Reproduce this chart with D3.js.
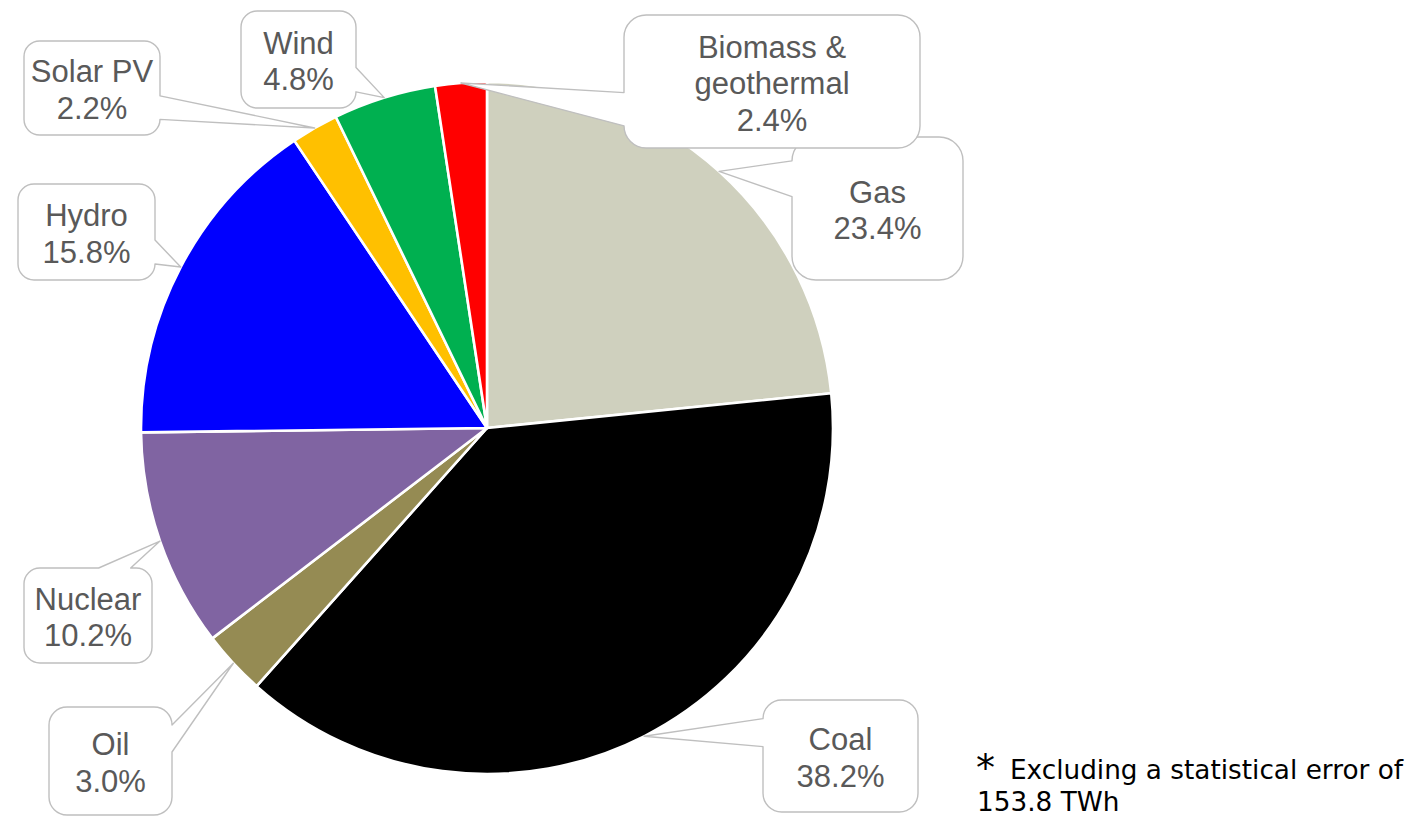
<!DOCTYPE html>
<html>
<head>
<meta charset="utf-8">
<script src="https://cdn.jsdelivr.net/npm/d3@7"></script>
<style>
  html, body { margin: 0; padding: 0; background: #ffffff; }
  svg { display: block; }
</style>
</head>
<body>
<svg id="chart" width="1407" height="818"></svg>
<script>
// Electricity generation mix (share of total, %)
const sources = ["Gas", "Coal", "Oil", "Nuclear", "Hydro", "Solar PV", "Wind", "Biomass &\ngeothermal"];
const shares  = [23.4, 38.2, 3.0, 10.2, 15.8, 2.2, 4.8, 2.4];
const colors  = ["#CFD0BE", "#000000", "#958B53", "#8064A2", "#0000FF", "#FFC000", "#00B050", "#FF0000"];
const footnoteLines = ["Excluding a statistical error of", "153.8 TWh"];

// Callout box placement (left, top, width, height), one per slice
const calloutBoxes = [
  [792, 137, 171, 143],
  [763, 700, 155, 112],
  [49, 707, 123, 108],
  [24, 568, 128, 95],
  [18, 184, 137, 96],
  [24, 41, 136, 94],
  [241, 11, 115, 97],
  [624, 15, 296, 133]
];

const svg = d3.select("#chart");
const cx = 487, cy = 428, radius = 346;

const data = sources.map((s, i) => ({ name: s, value: shares[i], color: colors[i], box: calloutBoxes[i] }));

const pie = d3.pie().value(d => d.value).sort(null);
const arcs = pie(data);
const arc = d3.arc().innerRadius(0).outerRadius(radius);
const rim = d3.arc().innerRadius(radius).outerRadius(radius);

const g = svg.append("g").attr("transform", `translate(${cx},${cy})`);
g.selectAll("path.slice")
  .data(arcs)
  .join("path")
  .attr("class", "slice")
  .attr("d", arc)
  .attr("fill", d => d.data.color)
  .attr("stroke", "#ffffff")
  .attr("stroke-width", 2.6)
  .attr("stroke-linejoin", "round");

// Rounded callout with a wedge pointing at the slice rim
function calloutPath(x, y, w, h, tip) {
  const r = Math.min(w, h) / 6;
  const mx = x + w / 2, my = y + h / 2;
  const dx = tip[0] - mx, dy = tip[1] - my;
  const vertical = Math.abs(dy) > Math.abs(dx * h / w);
  let edge, b0, b1;
  if (vertical) {
    edge = dy < 0 ? "top" : "bottom";
    [b0, b1] = dx < 0 ? [x + w * 2 / 12, x + w * 5 / 12] : [x + w * 7 / 12, x + w * 10 / 12];
  } else {
    edge = dx < 0 ? "left" : "right";
    [b0, b1] = dy < 0 ? [y + h * 2 / 12, y + h * 5 / 12] : [y + h * 7 / 12, y + h * 10 / 12];
  }
  const t = `${tip[0]},${tip[1]}`;
  let p = `M${x + r},${y}`;
  if (edge === "top") p += `L${b0},${y}L${t}L${b1},${y}`;
  p += `L${x + w - r},${y}A${r},${r} 0 0 1 ${x + w},${y + r}`;
  if (edge === "right") p += `L${x + w},${b0}L${t}L${x + w},${b1}`;
  p += `L${x + w},${y + h - r}A${r},${r} 0 0 1 ${x + w - r},${y + h}`;
  if (edge === "bottom") p += `L${b1},${y + h}L${t}L${b0},${y + h}`;
  p += `L${x + r},${y + h}A${r},${r} 0 0 1 ${x},${y + h - r}`;
  if (edge === "left") p += `L${x},${b1}L${t}L${x},${b0}`;
  p += `L${x},${y + r}A${r},${r} 0 0 1 ${x + r},${y}Z`;
  return p;
}

const fmt = d3.format(".1f");
const callouts = svg.append("g").attr("class", "callouts");

arcs.forEach(a => {
  const [bx, by, bw, bh] = a.data.box;
  const c = rim.centroid(a);
  const tip = [cx + c[0], cy + c[1]];
  callouts.append("path")
    .attr("d", calloutPath(bx, by, bw, bh, tip))
    .attr("fill", "#ffffff")
    .attr("stroke", "#BFBFBF")
    .attr("stroke-width", 1.4)
    .attr("stroke-linejoin", "round");

  const lines = a.data.name.split("\n").concat([fmt(a.data.value) + "%"]);
  const lh = 36.5;
  const midY = by + bh / 2 + 2;
  const text = callouts.append("text")
    .attr("text-anchor", "middle")
    .attr("font-family", "Liberation Sans, Arial, sans-serif")
    .attr("font-size", 31)
    .attr("fill", "#595959");
  lines.forEach((ln, i) => {
    text.append("tspan")
      .attr("x", bx + bw / 2)
      .attr("y", midY + (i - (lines.length - 1) / 2) * lh)
      .attr("dominant-baseline", "central")
      .text(ln);
  });
});

// Footnote
const foot = svg.append("g")
  .attr("font-family", "DejaVu Sans, Verdana, sans-serif")
  .attr("font-size", 26.3)
  .attr("fill", "#000000");
foot.append("text").attr("x", 976).attr("y", 781).attr("font-size", 38).text("*");
foot.append("text").attr("x", 1010).attr("y", 779).text(footnoteLines[0]);
foot.append("text").attr("x", 977).attr("y", 811).text(footnoteLines[1]);
</script>
</body>
</html>
